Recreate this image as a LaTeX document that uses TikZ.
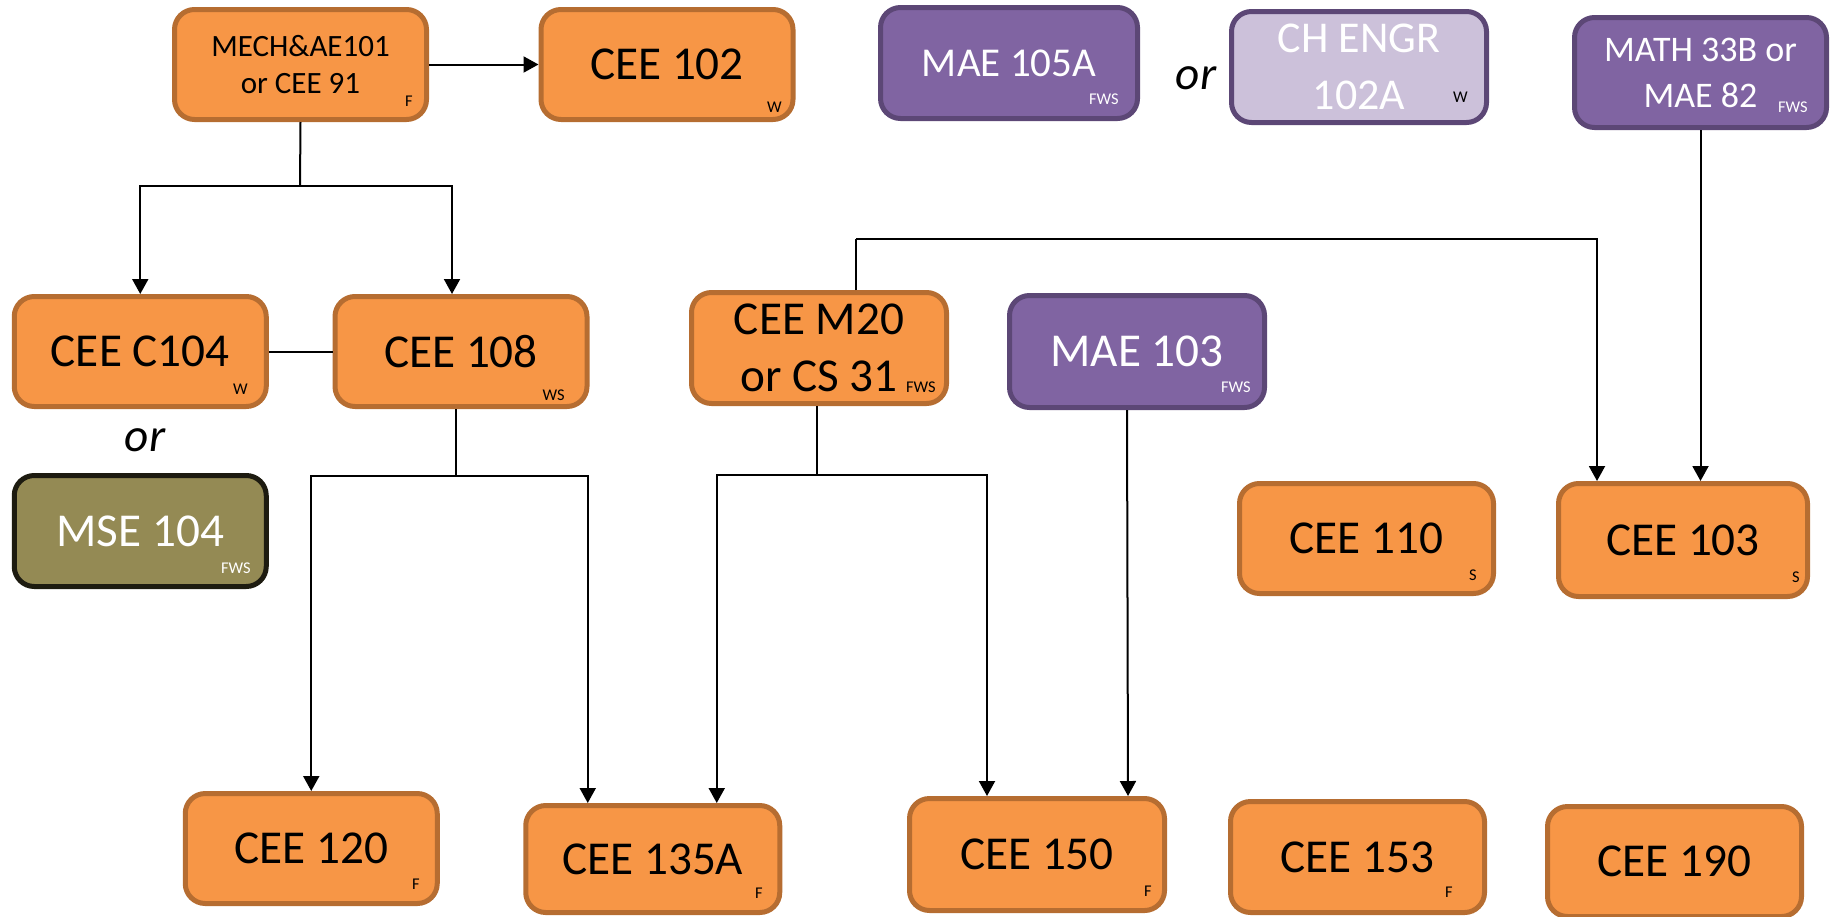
\documentclass[tikz,border=0pt]{standalone}
\usepackage{fontspec}
\setmainfont{Carlito}
\usepackage{tikz}
\usetikzlibrary{arrows.meta}

\definecolor{boxorange}{HTML}{F79646}
\definecolor{edgeorange}{HTML}{B66D31}
\definecolor{boxpurple}{HTML}{8064A2}
\definecolor{edgepurple}{HTML}{5C4776}
\definecolor{boxlilac}{HTML}{CCC1DA}
\definecolor{boxolive}{HTML}{948A54}
\definecolor{edgeolive}{HTML}{1D1B10}
\newcommand{\coursefont}{\fontsize{23.6}{28.5}\selectfont}

\begin{document}
\begin{tikzpicture}[x=0.5pt,y=-0.5pt,
    course/.style={rounded corners=10pt,line width=2.5pt,align=center,inner sep=0pt,
        minimum width=126pt,minimum height=55pt,font=\coursefont},
    orangebox/.style={course,fill=boxorange,draw=edgeorange,text=black},
    purplebox/.style={course,fill=boxpurple,draw=edgepurple,text=white},
    lilacbox/.style={course,fill=boxlilac,draw=edgepurple,text=white},
    olivebox/.style={course,fill=boxolive,draw=edgeolive,text=white},
    tag/.style={anchor=base east,inner sep=0pt,font=\fontsize{8.2}{9}\selectfont},
    link/.style={line width=1pt},
    arr/.style={line width=1pt,-{Triangle[length=7.5pt,width=8pt]}}]
    \useasboundingbox (0,0) rectangle (1831,916);

    % top row
    \node[orangebox,font=\fontsize{15.5}{18.5}\selectfont] (mech) at (300.5,64.5) {MECH\&AE101\\or CEE 91};
        \node[tag] (tmech) at (413,106) {F};
    \node[orangebox] (c102) at (667,64.5) {CEE 102};
        \node[tag] (tc102) at (782,112) {W};
    \node[purplebox,minimum width=128.5pt,minimum height=55.5pt,font=\fontsize{20.5}{25}\selectfont] (m105a) at (1009,63) {MAE 105A};
        \node[tag,text=white] (tm105a) at (1119,104) {FWS};
    \node[font=\coursefont\itshape] (or1) at (1196,78) {or};
    \node[lilacbox,minimum width=127.5pt,minimum height=55.5pt,font=\fontsize{22}{28.5}\selectfont] (ch102a) at (1359,67) {CH ENGR\\102A};
        \node[tag] (tch102a) at (1468,102) {W};
    \node[purplebox,font=\fontsize{18}{23}\selectfont] (math) at (1700.5,72.5) {MATH 33B or\\MAE 82};
        \node[tag,text=white] (tmath) at (1808,112) {FWS};

    % middle rows
    \node[orangebox] (c104) at (140.25,351.5) {CEE C104};
        \node[tag] (tc104) at (248,394) {W};
    \node[orangebox] (c108) at (461,351.5) {CEE 108};
        \node[tag] (tc108) at (565,400) {WS};
    \node[orangebox,minimum width=127.5pt,minimum height=55.5pt] (m20) at (819,348) {CEE M20\\or CS 31};
        \node[tag] (tm20) at (936,392) {FWS};
    \node[purplebox,minimum width=127.5pt,minimum height=56pt] (m103) at (1137,351.5) {MAE 103};
        \node[tag,text=white] (tm103) at (1251,392) {FWS};
    \node[font=\coursefont\itshape] (or2) at (145,440) {or};
    \node[olivebox,minimum height=55.5pt] (mse) at (140.25,531) {MSE 104};
        \node[tag,text=white] (tmse) at (251,573) {FWS};
    \node[orangebox,minimum width=127pt] (c110) at (1366.5,538.5) {CEE 110};
        \node[tag] (tc110) at (1477,580) {S};
    \node[orangebox,minimum width=124.5pt,minimum height=56.5pt] (c103) at (1683,540) {CEE 103};
        \node[tag] (tc103) at (1800,582) {S};

    % bottom row
    \node[orangebox] (c120) at (311.25,848.5) {CEE 120};
        \node[tag] (tc120) at (420,889) {F};
    \node[orangebox,minimum width=127pt,minimum height=53.5pt] (c135a) at (652.75,859) {CEE 135A};
        \node[tag] (tc135a) at (763,898) {F};
    \node[orangebox,minimum width=127.5pt,minimum height=56pt] (c150) at (1037,854.5) {CEE 150};
        \node[tag] (tc150) at (1152,896) {F};
    \node[orangebox,minimum width=127pt,minimum height=55.5pt] (c153) at (1357.5,857) {CEE 153};
        \node[tag] (tc153) at (1453,897) {F};
    \node[orangebox,minimum width=127pt] (c190) at (1674.5,861.5) {CEE 190};

    % prerequisites
    \draw[arr] (mech.east) -- (c102.west);
    \coordinate (j1) at (300,186);
    \draw[link] (mech.south) -- (j1);
    \draw[arr] (j1) -| (c104.north);
    \draw[arr] (j1) -| ([xshift=-4.5pt]c108.north);
    \draw[link] (c104.east) -- (c108.west);

    \coordinate (j2) at (456,476);
    \draw[link] ([xshift=-2.5pt]c108.south) -- (j2);
    \draw[arr] (j2) -| (c120.north);
    \draw[arr] (j2) -| ([xshift=-32.5pt]c135a.north);

    \coordinate (j3) at (817,475);
    \draw[link] ([xshift=-1pt]m20.south) -- (j3);
    \draw[arr] (j3) -| ([xshift=32pt]c135a.north);
    \draw[arr] (j3) -| ([xshift=-25pt]c150.north);

    \coordinate (j4) at (856,239);
    \draw[link] ([xshift=18.5pt]m20.north) -- (j4);
    \draw[arr] (j4) -| ([xshift=-43pt]c103.north);

    \draw[arr] ([xshift=-5pt]m103.south) -- ([xshift=45.5pt]c150.north);
    \draw[arr] (math.south) -- (math.south |- c103.north);
\end{tikzpicture}
\end{document}
